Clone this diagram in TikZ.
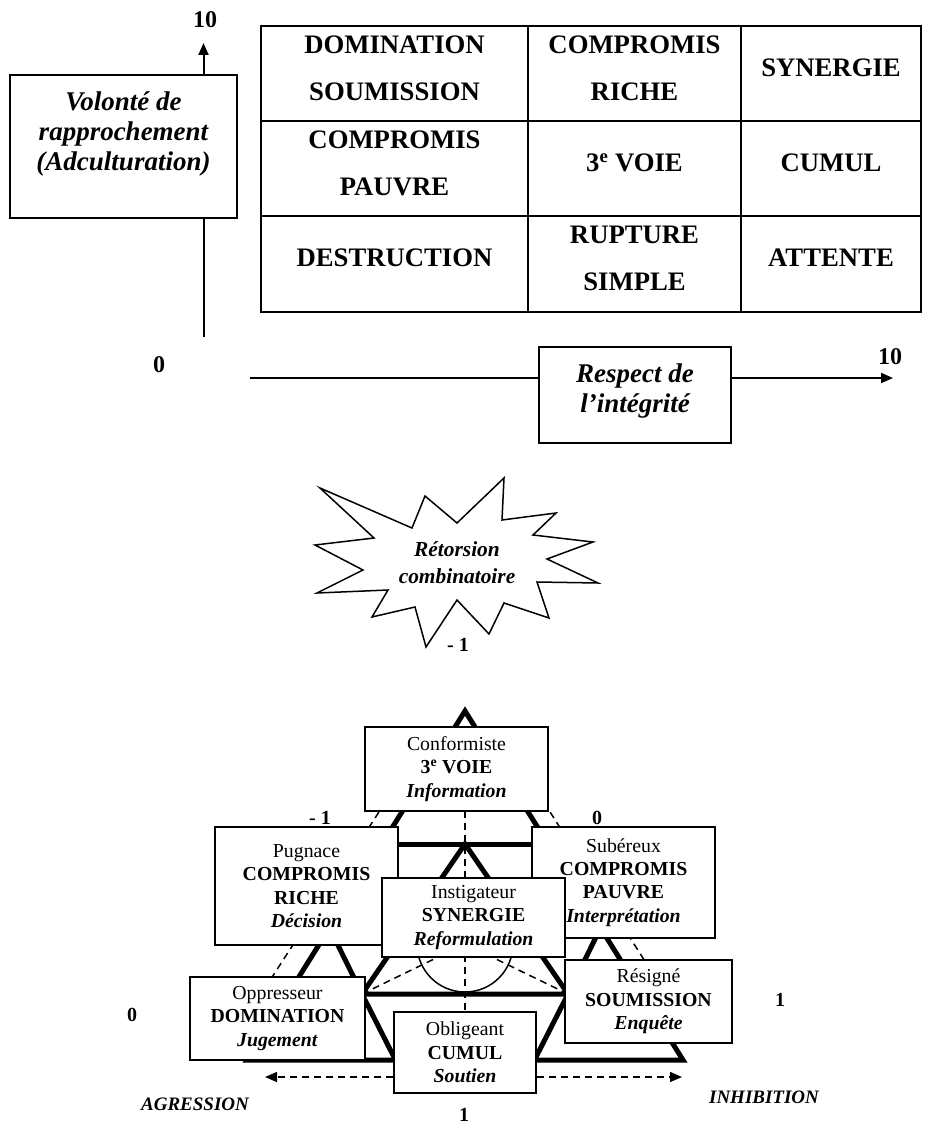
\documentclass[tikz,border=0pt]{standalone}
\usepackage{fontspec}
\setmainfont{Liberation Serif}
\usetikzlibrary{arrows.meta}
\begin{document}
\begin{tikzpicture}[x=1pt,y=-1pt,
  tri/.style={line width=5pt, line join=miter},
  thinbox/.style={draw, line width=1.5pt, fill=white, inner sep=0pt, align=center, font=\fontsize{19.8}{23.3}\selectfont},
  dsh/.style={line width=1.5pt, dash pattern=on 7pt off 5pt},
  tbl/.style={font=\bfseries\fontsize{26.7}{47}\selectfont, align=center},
  bigit/.style={font=\bfseries\itshape\fontsize{27}{30}\selectfont, align=center},
  lbl/.style={font=\bfseries\fontsize{20}{24}\selectfont},
  toplbl/.style={font=\bfseries\fontsize{24}{28}\selectfont},
  axis/.style={line width=2pt},
  tip/.style={-{Triangle[length=12pt,width=10pt]}}
]
\useasboundingbox (0,0) rectangle (924,1124);

% ---------- top part ----------
\coordinate (y0) at (203.5,337);
\coordinate (y1) at (203.5,43);
\draw[axis, tip] (y0) -- (y1);
\node[toplbl] (ten1) at (205,20) {10};
\node[draw, line width=2pt, fill=white, minimum width=227, minimum height=143, inner sep=0pt] (vol) at (123.5,146.5) {};
\node[bigit] (voltxt) at (123.5,134) {Volonté de\\rapprochement\\(Adculturation)};

\coordinate (x0) at (250,378);
\coordinate (x1) at (893,378);
\draw[axis, tip] (x0) -- (x1);
\node[toplbl] (zero1) at (159,365) {0};
\node[toplbl] (ten2) at (890,357) {10};
\node[draw, line width=2pt, fill=white, minimum width=192, minimum height=96, inner sep=0pt] (resp) at (635,395) {};
\node[bigit] (resptxt) at (635,391) {Respect de\\l’intégrité};

% table
\draw[line width=2.5pt] (261,26) rectangle (921,312);
\draw[line width=2.5pt] (261,121) -- (921,121);
\draw[line width=2.5pt] (261,216) -- (921,216);
\draw[line width=2.5pt] (528,26) -- (528,312);
\draw[line width=2.5pt] (741,26) -- (741,312);
\node[tbl] (c11) at (394.5,68) {DOMINATION\\SOUMISSION};
\node[tbl] (c12) at (634.5,68) {COMPROMIS\\RICHE};
\node[tbl] (c13) at (831,68) {SYNERGIE};
\node[tbl] (c21) at (394.5,163) {COMPROMIS\\PAUVRE};
\node[tbl] (c22) at (634.5,163) {3\textsuperscript{e} VOIE};
\node[tbl] (c23) at (831,163) {CUMUL};
\node[tbl] (c31) at (394.5,258) {DESTRUCTION};
\node[tbl] (c32) at (634.5,258) {RUPTURE\\SIMPLE};
\node[tbl] (c33) at (831,258) {ATTENTE};

% ---------- star ----------
\draw[line width=1.5pt, line join=miter, fill=white]
  (320,488) -- (412,528) -- (425,496) -- (457,523) -- (504,478) -- (502,520) --
  (556,513) -- (533,535) -- (593,542) -- (547,559) -- (598,583) -- (537,582) --
  (549,618) -- (504,603) -- (489,634) -- (457,600) -- (426,647) -- (415,607) --
  (372,617) -- (388,590) -- (317,593) -- (363,570) -- (315,545) -- (374,538) -- cycle;
\node[font=\bfseries\itshape\fontsize{21.4}{27}\selectfont, align=center] (star) at (457,563) {Rétorsion\\combinatoire};
\node[lbl] (m1a) at (458,645) {- 1};

% ---------- triangle diagram ----------
\coordinate (A) at (465,711);
\coordinate (BL) at (247,1060);
\coordinate (BR) at (683,1060);
\coordinate (HL) at (382,844);
\coordinate (HR) at (548,844);
\coordinate (IA) at (465,844);
\coordinate (IL) at (362,994);
\coordinate (IR) at (568,994);
\coordinate (LA) at (329.5,928);
\coordinate (LB) at (395.5,1060);
\coordinate (RA) at (600.5,928);
\coordinate (RB) at (534.5,1060);
\coordinate (G) at (465,944);

\draw[tri] (A) -- (BL) -- (BR) -- cycle;
\draw[tri] (HL) -- (HR);
\draw[tri] (IA) -- (IL) -- (IR) -- cycle;
\draw[tri] (LA) -- (IL) -- (LB);
\draw[tri] (RA) -- (IR) -- (RB);

\coordinate (dl1) at (385.4,802);
\coordinate (dl2) at (267,985);
\coordinate (dr1) at (543.7,802);
\coordinate (dr2) at (648,966);
\coordinate (vt) at (465,811);
\coordinate (vb) at (465,1012);
\draw[dsh] (dl1) -- (dl2);
\draw[dsh] (dr1) -- (dr2);
\draw[dsh] (vt) -- (vb);
\draw[dsh] (IL) -- (G);
\draw[dsh] (IR) -- (G);
\draw[line width=1.5pt] (G) circle[radius=48];

\node[thinbox, minimum width=183, minimum height=84] (conf) at (456.5,769)
  {Conformiste\\\textbf{3\textsuperscript{e} VOIE}\\\textbf{\textit{Information}}};
\node[thinbox, minimum width=183, minimum height=118] (pug) at (306.5,886)
  {Pugnace\\\textbf{COMPROMIS}\\\textbf{RICHE}\\\textbf{\textit{Décision}}};
\node[thinbox, minimum width=183, minimum height=111] (sub) at (623.5,882.5)
  {Subéreux\\\textbf{COMPROMIS}\\\textbf{PAUVRE}\\\textbf{\textit{Interprétation}}};
\node[thinbox, minimum width=183, minimum height=79] (ins) at (473.5,917.5)
  {Instigateur\\\textbf{SYNERGIE}\\\textbf{\textit{Reformulation}}};
\node[thinbox, minimum width=175, minimum height=83] (opp) at (277.5,1018.5)
  {Oppresseur\\\textbf{DOMINATION}\\\textbf{\textit{Jugement}}};
\node[thinbox, minimum width=167, minimum height=83] (res) at (648.5,1001.5)
  {Résigné\\\textbf{SOUMISSION}\\\textbf{\textit{Enquête}}};
\node[thinbox, minimum width=142, minimum height=81] (obl) at (465,1052.5)
  {Obligeant\\\textbf{CUMUL}\\\textbf{\textit{Soutien}}};

\coordinate (aL) at (265,1077);
\coordinate (aR) at (682,1077);
\draw[dsh, tip] (obl.west |- aL) -- (aL);
\draw[dsh, tip] (obl.east |- aR) -- (aR);

\node[lbl] (m1b) at (320,818) {- 1};
\node[lbl] (z2) at (597,818) {0};
\node[lbl] (z3) at (132,1015) {0};
\node[lbl] (o1) at (780,1000) {1};
\node[lbl] (o2) at (464,1115) {1};
\node[font=\bfseries\itshape\fontsize{19}{22}\selectfont] (agr) at (195,1104) {AGRESSION};
\node[font=\bfseries\itshape\fontsize{19}{22}\selectfont] (inh) at (764,1097) {INHIBITION};
\end{tikzpicture}
\end{document}
